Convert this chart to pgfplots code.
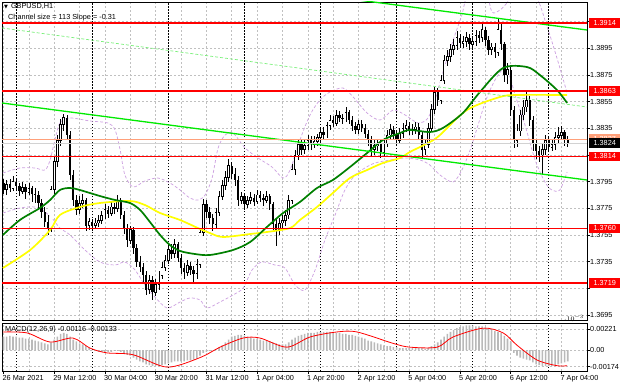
\documentclass[border=0pt]{standalone}
\usepackage{pgfplots}
\pgfplotsset{compat=1.18}
\usepackage{pgfplotstable}
\usepackage{fontspec}
\setmainfont{Liberation Sans}
\newfontfamily\symfont{DejaVu Sans}
\definecolor{mtgreen}{RGB}{0,128,0}
\definecolor{mtyellow}{RGB}{255,255,0}
\definecolor{mtlime}{RGB}{0,235,0}
\definecolor{mtdash}{RGB}{120,240,120}
\definecolor{mtband}{RGB}{205,160,225}
\definecolor{mtred}{RGB}{255,0,0}
\definecolor{mtsalmon}{RGB}{255,160,122}
\definecolor{mtgrid}{RGB}{192,192,192}
\definecolor{mthist}{RGB}{185,185,185}
\newcommand{\tl}{\fontsize{7.3}{8.5}\selectfont}

% bullish candles (close > open)
\pgfplotstableread{
i o h l c
1 1.3789 1.3796 1.3785 1.3793
3 1.3790 1.3799 1.3788 1.3795
6 1.3788 1.3795 1.3786 1.3791
8 1.3787 1.3794 1.3785 1.3790
15 1.3760 1.3792 1.3757 1.3789
16 1.3789 1.3814 1.3786 1.3810
17 1.3810 1.3830 1.3806 1.3826
18 1.3826 1.3842 1.3822 1.3838
19 1.3838 1.3846 1.3833 1.3843
24 1.3774 1.3784 1.3771 1.3779
25 1.3779 1.3786 1.3775 1.3781
27 1.3762 1.3768 1.3759 1.3765
29 1.3762 1.3768 1.3760 1.3764
30 1.3764 1.3770 1.3761 1.3766
31 1.3766 1.3773 1.3763 1.3770
32 1.3770 1.3778 1.3767 1.3774
34 1.3771 1.3780 1.3769 1.3776
36 1.3775 1.3785 1.3772 1.3781
40 1.3751 1.3762 1.3748 1.3759
46 1.3714 1.3725 1.3711 1.3721
48 1.3712 1.3722 1.3709 1.3718
49 1.3718 1.3728 1.3714 1.3725
50 1.3725 1.3735 1.3722 1.3731
51 1.3731 1.3740 1.3728 1.3736
52 1.3736 1.3749 1.3733 1.3744
54 1.3741 1.3752 1.3738 1.3748
58 1.3727 1.3736 1.3724 1.3732
61 1.3726 1.3737 1.3722 1.3733
62 1.3733 1.3760 1.3730 1.3757
63 1.3757 1.3782 1.3754 1.3778
67 1.3763 1.3775 1.3760 1.3772
68 1.3772 1.3788 1.3769 1.3784
69 1.3784 1.3796 1.3781 1.3792
70 1.3792 1.3803 1.3789 1.3798
71 1.3798 1.3812 1.3795 1.3807
75 1.3781 1.3787 1.3778 1.3784
77 1.3778 1.3784 1.3775 1.3781
78 1.3781 1.3787 1.3778 1.3783
80 1.3780 1.3789 1.3778 1.3785
83 1.3781 1.3788 1.3779 1.3784
87 1.3759 1.3768 1.3755 1.3764
88 1.3764 1.3770 1.3760 1.3766
89 1.3766 1.3774 1.3762 1.3770
90 1.3770 1.3785 1.3767 1.3781
91 1.3781 1.3808 1.3778 1.3804
92 1.3804 1.3819 1.3800 1.3815
93 1.3815 1.3827 1.3811 1.3823
95 1.3819 1.3826 1.3816 1.3822
96 1.3822 1.3830 1.3819 1.3826
98 1.3823 1.3829 1.3820 1.3825
99 1.3825 1.3831 1.3822 1.3828
100 1.3828 1.3835 1.3825 1.3832
102 1.3830 1.3840 1.3828 1.3837
103 1.3837 1.3845 1.3834 1.3841
105 1.3839 1.3849 1.3837 1.3845
108 1.3842 1.3851 1.3840 1.3847
112 1.3834 1.3841 1.3831 1.3838
117 1.3819 1.3826 1.3815 1.3822
118 1.3822 1.3827 1.3818 1.3823
120 1.3817 1.3828 1.3814 1.3824
121 1.3824 1.3834 1.3821 1.3830
122 1.3830 1.3838 1.3827 1.3834
125 1.3826 1.3835 1.3823 1.3831
126 1.3831 1.3839 1.3828 1.3835
127 1.3835 1.3841 1.3832 1.3837
129 1.3833 1.3838 1.3830 1.3834
130 1.3834 1.3840 1.3831 1.3836
133 1.3819 1.3827 1.3815 1.3823
134 1.3823 1.3839 1.3820 1.3835
135 1.3835 1.3853 1.3832 1.3849
136 1.3849 1.3866 1.3846 1.3862
138 1.3856 1.3875 1.3853 1.3871
139 1.3871 1.3890 1.3868 1.3886
140 1.3886 1.3894 1.3882 1.3889
141 1.3889 1.3898 1.3885 1.3894
142 1.3894 1.3902 1.3890 1.3897
143 1.3897 1.3908 1.3894 1.3903
145 1.3899 1.3904 1.3895 1.3900
146 1.3900 1.3907 1.3896 1.3903
148 1.3898 1.3904 1.3895 1.3900
149 1.3900 1.3909 1.3897 1.3905
151 1.3903 1.3913 1.3900 1.3909
154 1.3894 1.3899 1.3890 1.3896
156 1.3892 1.3918 1.3889 1.3909
159 1.3875 1.3884 1.3868 1.3879
162 1.3826 1.3838 1.3821 1.3833
163 1.3833 1.3849 1.3829 1.3845
164 1.3845 1.3856 1.3841 1.3851
165 1.3851 1.3864 1.3847 1.3856
170 1.3815 1.3823 1.3801 1.3819
171 1.3819 1.3830 1.3815 1.3826
173 1.3821 1.3827 1.3818 1.3823
174 1.3823 1.3832 1.3819 1.3828
175 1.3828 1.3836 1.3824 1.3830
176 1.3830 1.3837 1.3827 1.3832
}\bull

% bearish candles (close < open)
\pgfplotstableread{
i o h l c
0 1.3794 1.3797 1.3786 1.3789
2 1.3793 1.3797 1.3787 1.3790
4 1.3795 1.3798 1.3789 1.3792
5 1.3792 1.3794 1.3784 1.3788
7 1.3791 1.3793 1.3782 1.3787
9 1.3790 1.3792 1.3780 1.3786
10 1.3786 1.3790 1.3779 1.3785
11 1.3785 1.3788 1.3775 1.3779
12 1.3779 1.3782 1.3768 1.3772
13 1.3772 1.3776 1.3761 1.3765
14 1.3765 1.3770 1.3755 1.3760
20 1.3843 1.3845 1.3826 1.3830
21 1.3830 1.3833 1.3796 1.3800
22 1.3800 1.3804 1.3777 1.3781
23 1.3781 1.3785 1.3770 1.3774
26 1.3781 1.3783 1.3758 1.3762
28 1.3765 1.3767 1.3758 1.3762
33 1.3774 1.3777 1.3768 1.3771
35 1.3776 1.3779 1.3771 1.3775
37 1.3781 1.3783 1.3767 1.3770
38 1.3770 1.3773 1.3756 1.3760
39 1.3760 1.3763 1.3746 1.3751
41 1.3759 1.3761 1.3741 1.3745
42 1.3745 1.3748 1.3731 1.3735
43 1.3735 1.3739 1.3727 1.3731
44 1.3731 1.3734 1.3720 1.3725
45 1.3725 1.3728 1.3710 1.3714
47 1.3721 1.3724 1.3706 1.3712
53 1.3744 1.3748 1.3737 1.3741
55 1.3748 1.3750 1.3735 1.3738
56 1.3738 1.3741 1.3726 1.3730
57 1.3730 1.3734 1.3722 1.3727
59 1.3732 1.3735 1.3725 1.3729
60 1.3729 1.3732 1.3720 1.3726
64 1.3778 1.3781 1.3768 1.3772
65 1.3772 1.3776 1.3763 1.3768
66 1.3768 1.3771 1.3758 1.3763
72 1.3807 1.3810 1.3797 1.3801
73 1.3801 1.3805 1.3792 1.3796
74 1.3796 1.3799 1.3777 1.3781
76 1.3784 1.3786 1.3774 1.3778
79 1.3783 1.3786 1.3777 1.3780
81 1.3785 1.3788 1.3780 1.3783
82 1.3783 1.3786 1.3777 1.3781
84 1.3784 1.3786 1.3774 1.3778
85 1.3778 1.3780 1.3759 1.3763
86 1.3763 1.3767 1.3747 1.3759
94 1.3823 1.3826 1.3815 1.3819
97 1.3826 1.3829 1.3819 1.3823
101 1.3832 1.3836 1.3827 1.3830
104 1.3841 1.3844 1.3836 1.3839
106 1.3845 1.3848 1.3840 1.3843
107 1.3843 1.3846 1.3838 1.3842
109 1.3847 1.3849 1.3838 1.3841
110 1.3841 1.3844 1.3833 1.3837
111 1.3837 1.3840 1.3831 1.3834
113 1.3838 1.3841 1.3832 1.3835
114 1.3835 1.3838 1.3828 1.3831
115 1.3831 1.3834 1.3822 1.3826
116 1.3826 1.3829 1.3814 1.3819
119 1.3823 1.3826 1.3813 1.3817
123 1.3834 1.3837 1.3827 1.3831
124 1.3831 1.3834 1.3822 1.3826
128 1.3837 1.3840 1.3830 1.3833
131 1.3836 1.3839 1.3826 1.3830
132 1.3830 1.3832 1.3813 1.3819
137 1.3862 1.3865 1.3852 1.3856
144 1.3903 1.3906 1.3895 1.3899
147 1.3903 1.3906 1.3894 1.3898
150 1.3905 1.3908 1.3899 1.3903
152 1.3909 1.3911 1.3897 1.3901
153 1.3901 1.3904 1.3890 1.3894
155 1.3896 1.3899 1.3888 1.3892
157 1.3909 1.3915 1.3894 1.3898
158 1.3898 1.3900 1.3870 1.3875
160 1.3879 1.3881 1.3844 1.3849
161 1.3849 1.3852 1.3820 1.3826
166 1.3856 1.3859 1.3837 1.3841
167 1.3841 1.3844 1.3818 1.3823
168 1.3823 1.3826 1.3812 1.3818
169 1.3818 1.3822 1.3810 1.3815
172 1.3826 1.3829 1.3817 1.3821
177 1.3832 1.3834 1.3822 1.3826
178 1.3826 1.3829 1.3821 1.3824
}\bear

\pgfplotstableread{
i m
0 0.0014
1 0.0014
2 0.0015
3 0.0014
4 0.0014
5 0.0013
6 0.0013
7 0.0012
8 0.0012
9 0.0011
10 0.0010
11 0.0009
12 0.0008
13 0.0007
14 0.0006
15 0.0008
16 0.0011
17 0.0014
18 0.0017
19 0.0018
20 0.0017
21 0.0014
22 0.0011
23 0.0009
24 0.0007
25 0.0006
26 0.0004
27 0.0002
28 0.0000
29 -0.0001
30 -0.0002
31 -0.0002
32 -0.0002
33 -0.0002
34 -0.0002
35 -0.0001
36 -0.0001
37 -0.0002
38 -0.0004
39 -0.0005
40 -0.0006
41 -0.0008
42 -0.0010
43 -0.0012
44 -0.0013
45 -0.0015
46 -0.0016
47 -0.0017
48 -0.0017
49 -0.0017
50 -0.0016
51 -0.0015
52 -0.0014
53 -0.0013
54 -0.0012
55 -0.0012
56 -0.0012
57 -0.0012
58 -0.0011
59 -0.0011
60 -0.0010
61 -0.0009
62 -0.0006
63 -0.0003
64 -0.0002
65 -0.0001
66 0.0000
67 0.0001
68 0.0003
69 0.0005
70 0.0008
71 0.0011
72 0.0014
73 0.0015
74 0.0016
75 0.0016
76 0.0015
77 0.0014
78 0.0013
79 0.0012
80 0.0012
81 0.0011
82 0.0010
83 0.0010
84 0.0009
85 0.0008
86 0.0007
87 0.0006
88 0.0006
89 0.0006
90 0.0008
91 0.0011
92 0.0013
93 0.0015
94 0.0016
95 0.0017
96 0.0018
97 0.0018
98 0.0018
99 0.0019
100 0.0019
101 0.0019
102 0.0019
103 0.0019
104 0.0019
105 0.0018
106 0.0018
107 0.0017
108 0.0017
109 0.0016
110 0.0016
111 0.0015
112 0.0014
113 0.0013
114 0.0012
115 0.0010
116 0.0009
117 0.0008
118 0.0007
119 0.0006
120 0.0005
121 0.0004
122 0.0004
123 0.0003
124 0.0003
125 0.0002
126 0.0002
127 0.0002
128 0.0002
129 0.0002
130 0.0002
131 0.0002
132 0.0002
133 0.0001
134 0.0002
135 0.0004
136 0.0006
137 0.0008
138 0.0011
139 0.0014
140 0.0017
141 0.0019
142 0.0021
143 0.0023
144 0.0024
145 0.0025
146 0.0026
147 0.0026
148 0.0026
149 0.0025
150 0.0025
151 0.0025
152 0.0024
153 0.0023
154 0.0022
155 0.0020
156 0.0019
157 0.0018
158 0.0015
159 0.0012
160 0.0009
161 -0.0003
162 -0.0006
163 -0.0008
164 -0.0009
165 -0.0010
166 -0.0011
167 -0.0013
168 -0.0015
169 -0.0016
170 -0.0017
171 -0.0017
172 -0.0017
173 -0.0017
174 -0.0016
175 -0.0015
176 -0.0014
177 -0.0013
178 -0.0012
}\macd

\pgfplotsset{
  body/.style 2 args={draw=none, mark=none, error bars/.cd, y dir=both, y explicit, error mark=none,
    error bar style={draw=#1, line width=#2, line cap=butt, solid}},
}

\begin{document}
\begin{tikzpicture}
\fill[white] (0,0) rectangle (620pt,-388pt);
\path[use as bounding box] (0,0) rectangle (620pt,-388pt);

\begin{axis}[
  at={(2pt,-2pt)}, anchor=north west,
  width=585pt, height=318pt, scale only axis,
  xmin=-0.47, xmax=184.07, ymin=1.369125, ymax=1.392975,
  clip mode=individual,
  axis line style={black, line width=0.6pt},
  xtick={0,8,...,176}, xticklabels={}, xtick style={draw=none},
  ytick={1.3695,1.3715,1.3735,1.3755,1.3775,1.3795,1.3815,1.3835,1.3855,1.3875,1.3895,1.3915},
  yticklabels={1.3695,,1.3735,1.3755,1.3775,1.3795,,1.3835,1.3855,1.3875,1.3895,},
  ytick pos=right, yticklabel pos=right, tick align=outside, major tick length=3pt,
  ytick style={black, line width=0.5pt},
  yticklabel style={font=\tl, anchor=west, inner sep=0pt, xshift=0pt},
  grid=major,
  major grid style={mtgrid, dash pattern=on 2pt off 2pt, line width=0.5pt},
  extra x ticks={4,28,52,76,100,124,148,172},
  extra x tick labels={},
  extra x tick style={grid=major, major grid style={black, dash pattern=on 1.5pt off 1.5pt, line width=0.6pt}},
]
% Bollinger bands
\addplot[mtband, dash pattern=on 3pt off 2pt, line width=0.7pt, smooth] coordinates {
(-0.2,1.38015) (5.2,1.380525) (9.9,1.380525) (13.1,1.380375) (14.7,1.381125) (16.2,1.382625) (17.8,1.3839) (21.0,1.384275) (27.3,1.38405) (33.0,1.3839) (35.2,1.383375) (36.8,1.381875) (38.3,1.38) (40.9,1.3791) (44.6,1.37955) (48.7,1.379775) (52.5,1.3794) (55.7,1.378875) (58.8,1.378275) (61.4,1.378125) (63.6,1.3785) (65.8,1.379775) (67.7,1.382025) (69.9,1.383) (72.4,1.38315) (76.2,1.382025) (80.3,1.381275) (84.7,1.3806) (88.2,1.379775) (90.4,1.380375) (93.5,1.382625) (96.7,1.3845) (99.8,1.385625) (103.0,1.386225) (107.1,1.386525) (110.3,1.38585) (114.7,1.38465) (118.8,1.384125) (122.9,1.384875) (126.7,1.3845) (130.8,1.3839) (133.9,1.384275) (136.1,1.385625) (139.3,1.38825) (142.4,1.3905) (144.6,1.392) (146.5,1.3935) (151.9,1.393875) (154.1,1.392225) (156.6,1.392375) (158.8,1.3929) (161.3,1.393875) (167.7,1.3935) (171.5,1.3911) (174.3,1.389) (177.8,1.38615)};
\addplot[mtband, dash pattern=on 3pt off 2pt, line width=0.7pt, smooth] coordinates {
(-0.2,1.37715) (5.2,1.377525) (9.9,1.3776) (13.1,1.377225) (15.3,1.376775) (17.8,1.376025) (21.0,1.3755) (25.7,1.374375) (30.4,1.373475) (35.2,1.37325) (38.3,1.373475) (41.5,1.372875) (44.6,1.37175) (47.8,1.37085) (51.6,1.370025) (55.7,1.370475) (58.8,1.370775) (62.0,1.370625) (64.2,1.370025) (68.3,1.370475) (72.4,1.371) (75.6,1.371525) (78.4,1.372875) (81.5,1.373475) (85.6,1.37325) (88.8,1.373025) (92.0,1.37175) (95.1,1.371375) (98.3,1.372875) (101.4,1.375125) (104.6,1.377) (107.7,1.378875) (110.9,1.38) (114.0,1.380525) (117.2,1.3809) (121.9,1.381125) (126.7,1.381275) (131.4,1.381125) (134.5,1.38075) (137.7,1.38) (141.8,1.379475) (144.6,1.380375) (147.2,1.381875) (149.7,1.38375) (152.2,1.385625) (154.7,1.386975) (157.3,1.387875) (159.2,1.387725) (161.4,1.386) (164.5,1.38375) (167.7,1.381125) (170.8,1.379475) (173.0,1.378875) (175.5,1.378875) (177.8,1.380225)};
% candles: wicks
\addplot[body={black}{0.6pt}] table[x=i, y expr={(\thisrow{h}+\thisrow{l})/2}, y error expr={(\thisrow{h}-\thisrow{l})/2}] {\bull};
\addplot[body={black}{0.6pt}] table[x=i, y expr={(\thisrow{h}+\thisrow{l})/2}, y error expr={(\thisrow{h}-\thisrow{l})/2}] {\bear};
% bear bodies
\addplot[body={black}{2.4pt}] table[x=i, y expr={(\thisrow{o}+\thisrow{c})/2}, y error expr={(\thisrow{o}-\thisrow{c})/2}] {\bear};
% bull bodies: outline then white fill
\addplot[body={black}{2.6pt}] table[x=i, y expr={(\thisrow{o}+\thisrow{c})/2}, y error expr={(\thisrow{c}-\thisrow{o})/2+0.00003}] {\bull};
\addplot[body={white}{1.1pt}] table[x=i, y expr={(\thisrow{o}+\thisrow{c})/2}, y error expr={(\thisrow{c}-\thisrow{o})/2-0.00003}] {\bull};
% moving averages
\addplot[mtyellow, line width=1.7pt, smooth] coordinates {
(-0.2,1.373025) (8.4,1.374375) (14.7,1.375875) (17.8,1.377) (24.1,1.3776) (30.4,1.3779) (39.9,1.37805) (44.6,1.37775) (49.4,1.37715) (55.7,1.376625) (62.0,1.37595) (65.1,1.37565) (69.2,1.37535) (77.8,1.375575) (83.1,1.375725) (90.4,1.376025) (93.5,1.376625) (98.9,1.3776) (103.9,1.37865) (109.3,1.379775) (114.7,1.380375) (119.7,1.3809) (125.1,1.381275) (128.2,1.381725) (134.5,1.382475) (137.7,1.383) (146.2,1.384875) (156.6,1.38585) (162.0,1.386) (177.8,1.386)};
\addplot[mtgreen, line width=1.7pt, smooth] coordinates {
(-0.2,1.3755) (5.2,1.37663) (11.5,1.377525) (14.7,1.378125) (17.8,1.378875) (21.0,1.379025) (24.1,1.378875) (30.4,1.378425) (35.2,1.378125) (39.9,1.3779) (43.1,1.377375) (46.2,1.376475) (49.4,1.3755) (52.5,1.37475) (55.7,1.3743) (60.4,1.374075) (65.1,1.374) (72.4,1.374375) (77.8,1.374975) (83.1,1.3761) (88.2,1.37715) (93.5,1.377975) (98.9,1.379025) (103.9,1.379625) (109.3,1.3806) (114.7,1.38165) (119.7,1.382625) (125.1,1.38315) (128.2,1.383375) (134.5,1.383225) (138.6,1.383525) (144.9,1.38465) (150.3,1.386225) (157.6,1.388025) (165.1,1.3881) (169.2,1.3875) (174.6,1.386375) (177.8,1.3854)};
% trend lines
\addplot[mtdash, dash pattern=on 3pt off 2pt, line width=0.7pt] coordinates {(-0.47,1.391025) (184.07,1.3851)};
\addplot[mtlime, line width=1.3pt] coordinates {(105,1.39334) (184.07,1.390875)};
\addplot[mtlime, line width=1.3pt] coordinates {(-0.47,1.3854) (184.07,1.379625)};
% horizontal levels
\addplot[mtsalmon, line width=1pt] coordinates {(-0.47,1.3827) (184.07,1.3827)};
\addplot[gray!35, line width=1pt] coordinates {(-0.47,1.3824) (184.07,1.3824)};
\addplot[mtred, line width=1.4pt] coordinates {(-0.47,1.3914) (184.07,1.3914)};
\addplot[mtred, line width=1.4pt] coordinates {(-0.47,1.3863) (184.07,1.3863)};
\addplot[mtred, line width=1.4pt] coordinates {(-0.47,1.3814) (184.07,1.3814)};
\addplot[mtred, line width=1.4pt] coordinates {(-0.47,1.3760) (184.07,1.3760)};
\addplot[mtred, line width=1.4pt] coordinates {(-0.47,1.3719) (184.07,1.3719)};
\coordinate (L1) at (axis cs:184.07,1.3914);
\coordinate (L2) at (axis cs:184.07,1.3863);
\coordinate (L3) at (axis cs:184.07,1.3814);
\coordinate (L4) at (axis cs:184.07,1.3760);
\coordinate (L5) at (axis cs:184.07,1.3719);
\coordinate (LA) at (axis cs:184.07,1.3827);
\coordinate (LB) at (axis cs:184.07,1.3824);
\end{axis}

\begin{axis}[
  at={(2pt,-323pt)}, anchor=north west,
  width=585pt, height=48pt, scale only axis,
  xmin=-0.47, xmax=184.07, ymin=-0.00221, ymax=0.002842,
  clip mode=individual,
  axis line style={black, line width=0.6pt},
  xtick={0,16,...,176},
  xticklabels={26 Mar 2021,29 Mar 12:00,30 Mar 04:00,30 Mar 20:00,31 Mar 12:00,1 Apr 04:00,1 Apr 20:00,2 Apr 12:00,5 Apr 04:00,5 Apr 20:00,6 Apr 12:00,7 Apr 04:00},
  xtick pos=bottom, xticklabel pos=bottom,
  minor x tick num=1,
  tick align=outside, major tick length=3pt, minor tick length=0pt,
  xticklabel style={font=\tl, anchor=north west, inner sep=0pt, yshift=-1pt, xshift=-1pt},
  ytick={-0.00174,0,0.00221}, yticklabels={-0.00174,0.00,0.00221},
  ytick pos=right, yticklabel pos=right,
  yticklabel style={font=\tl, anchor=west, inner sep=0pt},
  tick style={black, line width=0.5pt},
  grid=both,
  major grid style={mtgrid, dash pattern=on 2pt off 2pt, line width=0.5pt},
  minor grid style={mtgrid, dash pattern=on 2pt off 2pt, line width=0.5pt},
  extra x ticks={4,28,52,76,100,124,148,172},
  extra x tick labels={},
  extra x tick style={grid=major, major tick length=0pt, major grid style={black, dash pattern=on 1.5pt off 1.5pt, line width=0.6pt}},
]
\addplot[ybar, bar width=1.6pt, fill=mthist, draw=none] table[x=i, y=m] {\macd};
\addplot[mtred, line width=0.8pt, smooth] coordinates {
(-0.2,0.0019) (7.4,0.0018) (14.7,0.00084) (21.9,0.00126) (27.3,0.0002) (32.6,-0.0003) (40.9,-0.0005) (51.6,-0.0018) (62.0,-0.0008) (68.3,0.0003) (75.6,0.00126) (80.9,0.00126) (89.4,0.0003) (96.7,0.00137) (105.2,0.0019) (111.5,0.0019) (122.9,0.0007) (128.2,0.0003) (136.8,0.0003) (141.8,0.00137) (151.3,0.0023) (157.6,0.0018) (162.0,0.0005) (168.3,-0.00105) (174.6,-0.00165) (177.8,-0.00165)};
\end{axis}

% price labels on the right scale
\node[fill=mtsalmon, text=white, anchor=west, inner sep=0pt, minimum width=31pt, minimum height=9.5pt, font=\tl] at ([xshift=2pt]LA) {1.3827};
\foreach \c/\t in {L1/1.3914,L2/1.3863,L3/1.3814,L4/1.3760,L5/1.3719}
  \node[fill=mtred, text=white, anchor=west, inner sep=0pt, minimum width=31pt, minimum height=9.5pt, font=\tl] at ([xshift=2pt]\c) {\t};
\node[fill=black, text=white, anchor=west, inner sep=0pt, minimum width=31pt, minimum height=9.5pt, font=\tl] at ([xshift=2pt]LB) {1.3824};

% texts
\node[anchor=west, inner sep=0pt, font=\tl] at (4pt,-6pt) {{\symfont\fontsize{5}{6}\selectfont ▼}\hspace{3pt}GBPUSD,H1};
\node[anchor=west, inner sep=0pt, font=\tl] at (8pt,-18pt) {Channel size = 113 Slope = -0.31};
\node[anchor=west, inner sep=0pt, font=\tl] at (5pt,-330pt) {MACD(12,26,9) -0.00116 -0.00133};
\end{tikzpicture}
\end{document}
